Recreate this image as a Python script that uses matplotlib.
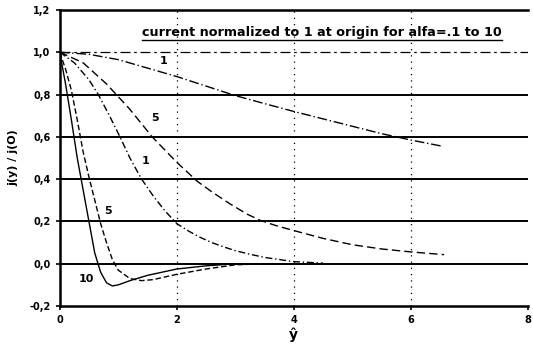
import numpy as np
import matplotlib
matplotlib.use('Agg')
import matplotlib.pyplot as plt
from matplotlib.lines import Line2D

# values
x_01 = [0, 0.5, 1.0, 1.5, 2.0, 2.5, 3.0, 3.5, 4.0, 4.5, 5.0, 5.5, 6.0, 6.55]
j_01 = [1.0, 0.99, 0.965, 0.925, 0.885, 0.84, 0.795, 0.757, 0.72, 0.685, 0.65, 0.615, 0.585, 0.555]

x_05 = [0, 0.4, 0.8, 1.2, 1.58, 2.0, 2.35, 2.6, 2.9, 3.2, 3.43, 3.7, 4.0, 4.5, 5.0, 5.5, 6.0, 6.57]
j_05 = [1.0, 0.95, 0.85, 0.73, 0.6, 0.48, 0.39, 0.34, 0.285, 0.235, 0.205, 0.18, 0.157, 0.12, 0.09, 0.07, 0.056, 0.043]

x_1 = [0, 0.25, 0.5, 0.66, 0.85, 1.03, 1.2, 1.4, 1.6, 1.8, 2.0, 2.2, 2.4, 2.6, 2.8, 3.0, 3.25, 3.5, 3.75, 4.0, 4.5]
j_1 = [1.0, 0.95, 0.87, 0.8, 0.7, 0.6, 0.5, 0.4, 0.32, 0.25, 0.19, 0.155, 0.125, 0.1, 0.08, 0.062, 0.045, 0.03, 0.02, 0.01, 0.003]

x_5 = [0, 0.1, 0.2, 0.3, 0.4, 0.5, 0.6, 0.7, 0.8, 0.9, 1.0, 1.2, 1.4, 1.6, 2.0, 2.5, 3.0, 3.5, 4.0]
j_5 = [1.0, 0.92, 0.82, 0.68, 0.53, 0.41, 0.3, 0.19, 0.1, 0.02, -0.03, -0.07, -0.08, -0.075, -0.05, -0.025, -0.005, 0.0, 0.0]

x_10 = [0, 0.1, 0.2, 0.3, 0.4, 0.5, 0.6, 0.7, 0.8, 0.9, 1.0, 1.2, 1.5, 2.0, 2.5, 3.0, 4.0]
j_10 = [1.0, 0.85, 0.68, 0.5, 0.35, 0.2, 0.05, -0.04, -0.09, -0.105, -0.1, -0.08, -0.055, -0.025, -0.01, 0.0, 0.0]

curve_labels = ['1', '5', '1', '5', '10']
label_pos = [(1.78, 0.96), (1.63, 0.69), (1.46, 0.485), (0.82, 0.25), (0.45, -0.07)]

y_ticks = [-0.2, 0.0, 0.2, 0.4, 0.6, 0.8, 1.0, 1.2]
y_ticklabels = ['-0,2', '0,0', '0,2', '0,4', '0,6', '0,8', '1,0', '1,2']
x_ticks = [0, 2, 4, 6, 8]

title = 'current normalized to 1 at origin for alfa=.1 to 10'

plt.rcParams['font.family'] = 'DejaVu Sans'
plt.rcParams['font.weight'] = 'bold'

fig = plt.figure(figsize=(5.33, 3.53), dpi=100)
ax = fig.add_axes([0.112, 0.133, 0.878, 0.839])

# grid: solid horizontals, dotted verticals
for yv in y_ticks[1:-1]:
    if yv == 1.0:
        ax.axhline(yv, color='black', lw=0.9, ls=(0, (8, 3, 2, 3)), zorder=1)
    else:
        ax.axhline(yv, color='black', lw=1.4, ls='-', zorder=1)
for xv in x_ticks[1:-1]:
    ax.axvline(xv, color='black', lw=0.9, ls=(0, (1, 4)), zorder=1)

ax.plot(x_01, j_01, color='black', lw=1.0, ls=(0, (7, 2, 1, 2)))
ax.plot(x_05, j_05, color='black', lw=1.0, ls=(0, (6, 3)))
ax.plot(x_1, j_1, color='black', lw=1.0, ls=(0, (5, 2, 1, 2)))
ax.plot(x_5, j_5, color='black', lw=1.0, ls=(0, (4, 2)))
ax.plot(x_10, j_10, color='black', lw=1.0, ls='-')

for lab, (lx, ly) in zip(curve_labels, label_pos):
    ax.text(lx, ly, lab, fontsize=8, fontweight='bold', ha='center', va='center')

ax.set_xlim(0, 8)
ax.set_ylim(-0.2, 1.2)
ax.set_xticks(x_ticks)
ax.set_yticks(y_ticks)
ax.set_yticklabels(y_ticklabels)
ax.tick_params(labelsize=7, direction='out', length=3, width=1.2)
for s in ['left', 'top', 'bottom']:
    ax.spines[s].set_linewidth(1.8)
ax.spines['right'].set_visible(False)

ax.set_ylabel('j(y) / j(O)', fontsize=8, fontweight='bold', labelpad=8)
ax.set_xlabel('ŷ', fontsize=10, fontweight='bold', labelpad=2)

t = ax.text(0.945, 0.925, title, transform=ax.transAxes, fontsize=9.2,
            fontweight='bold', ha='right', va='center')

fig.canvas.draw()
bb = t.get_window_extent().transformed(fig.transFigure.inverted())
fig.add_artist(Line2D([bb.x0, bb.x1], [bb.y0 - 0.003, bb.y0 - 0.003],
                      transform=fig.transFigure, color='black', lw=1.0))

fig.savefig('out.png', dpi=100)
